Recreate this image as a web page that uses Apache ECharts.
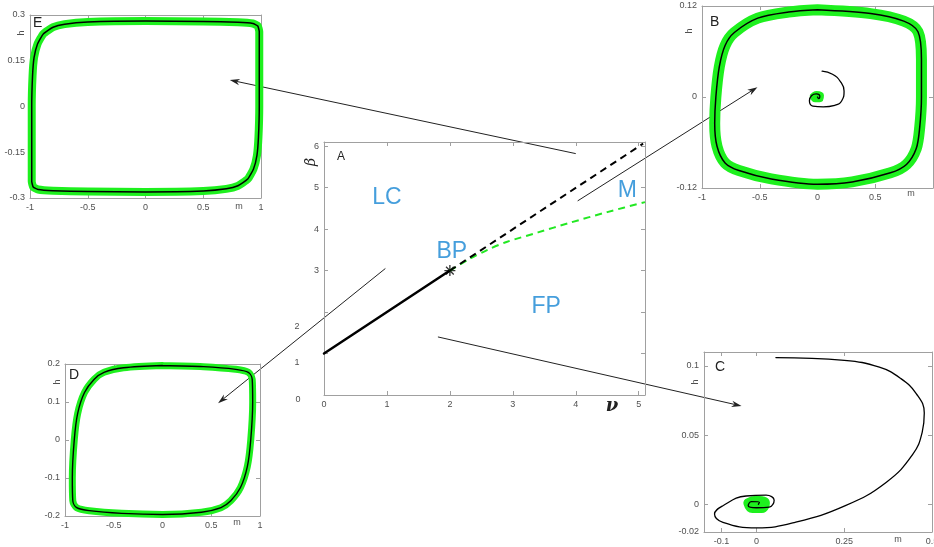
<!DOCTYPE html>
<html>
<head>
<meta charset="utf-8">
<script src="https://cdn.jsdelivr.net/npm/echarts@6/dist/echarts.min.js"></script>
<style>
  html, body { margin: 0; padding: 0; background: #fff; }
  #main { width: 934px; height: 547px; }
</style>
</head>
<body>
<div id="main"></div>
<script>
// panel A: two-parameter diagram (nu, beta)
const solidBranch = [[0, 1], [2, 3]]
const blackDashed = [[2, 3], [5.07, 6.06]]
const greenDashed = [[2, 3], [2.3, 3.27], [2.6, 3.5], [2.9, 3.69], [3.4, 3.92], [3.9, 4.15], [4.5, 4.41], [5.1, 4.65]]
const bpPoint = [[2, 3]]
const regionNames = ['LC', 'BP', 'M', 'FP']
const regionSpots = [[1.0, 4.77], [2.03, 3.45], [4.82, 4.93], [3.53, 2.12]]

// panel E: large limit cycle
const loopE = [[-0.985, -0.1], [-0.985, 0], [-0.978, 0.1], [-0.965, 0.16], [-0.935, 0.205], [-0.885, 0.238], [-0.8, 0.26], [-0.7, 0.27], [-0.5, 0.277], [0, 0.28], [0.5, 0.279], [0.8, 0.276], [0.93, 0.272], [0.972, 0.264], [0.985, 0.245], [0.985, 0.1], [0.985, 0], [0.978, -0.1], [0.965, -0.16], [0.935, -0.205], [0.885, -0.238], [0.8, -0.26], [0.7, -0.27], [0.5, -0.277], [0, -0.28], [-0.5, -0.279], [-0.8, -0.276], [-0.93, -0.272], [-0.972, -0.264], [-0.985, -0.245], [-0.985, -0.1]]

// panel B: bistable, limit cycle + spiral to fixed point
const loopB = [[0, 0.115], [0.46, 0.11], [0.747, 0.1], [0.87, 0.086], [0.9, 0.05], [0.9, 0], [0.885, -0.04], [0.855, -0.068], [0.77, -0.089], [0.632, -0.1], [0.3, -0.112], [0, -0.115], [-0.4, -0.108], [-0.68, -0.097], [-0.8, -0.087], [-0.87, -0.065], [-0.89, -0.035], [-0.88, 0], [-0.85, 0.04], [-0.8, 0.068], [-0.72, 0.085], [-0.517, 0.104], [-0.25, 0.112], [0, 0.115]]
const spiralB = [[0.04, 0.034], [0.13, 0.03], [0.2, 0.02], [0.23, 0.008], [0.21, -0.005], [0.15, -0.011], [0.05, -0.013], [-0.04, -0.012], [-0.07, -0.005], [-0.05, 0.002], [-0.01, 0.004], [0.02, 0.001], [0.01, -0.002], [0, 0]]
const blobB = [[-0.04, 0.001], [-0.01, 0.004], [0.03, 0.002], [0.02, -0.003], [-0.02, -0.003], [-0.04, 0.001]]

// panel D: limit cycle
const loopD = [[0, 0.196], [0.42, 0.193], [0.75, 0.186], [0.88, 0.178], [0.92, 0.16], [0.925, 0.1], [0.905, 0], [0.87, -0.07], [0.8, -0.125], [0.7, -0.16], [0.6, -0.178], [0.4, -0.19], [0, -0.196], [-0.42, -0.193], [-0.75, -0.186], [-0.88, -0.178], [-0.92, -0.16], [-0.925, -0.1], [-0.905, 0], [-0.87, 0.07], [-0.8, 0.125], [-0.7, 0.16], [-0.6, 0.178], [-0.4, 0.19], [0, 0.196]]

// panel C: spiral into fixed point
const spiralC = [[0.055, 0.106], [0.25, 0.104], [0.35, 0.099], [0.41, 0.091], [0.455, 0.08], [0.478, 0.066], [0.472, 0.052], [0.445, 0.036], [0.37, 0.016], [0.253, -0.001], [0.11, -0.013], [0, -0.017], [-0.096, -0.013], [-0.12, -0.007], [-0.096, -0.001], [-0.03, 0.006], [0.027, 0.0066], [0.05, 0.003], [0.036, -0.002], [0, -0.0025], [-0.024, -0.001], [-0.015, 0.002], [0.008, 0.0015], [0.005, 0]]
const blobC = [[-0.025, 0.001], [0, 0.003], [0.025, 0.001], [0.015, -0.003], [-0.012, -0.003], [-0.025, 0.001]]

// tick labels
const ticksA = { x: [0, 1, 2, 3, 4, 5], y: [0, 1, 2, 3, 4, 5, 6], yLabels: [3, 4, 5, 6], yShifted: ['2', '1', '0'] }
const ticksE = { x: [-1, -0.5, 0, 0.5, 1], y: [-0.3, -0.15, 0, 0.15, 0.3] }
const ticksB = { x: [-1, -0.5, 0, 0.5, 1], y: [-0.12, 0, 0.12] }
const ticksD = { x: [-1, -0.5, 0, 0.5, 1], y: [-0.2, -0.1, 0, 0.1, 0.2] }
const ticksC = { x: [-0.1, 0, 0.25, 0.5], y: [-0.02, 0, 0.05, 0.1] }

const axisColor = '#a0a0a0'
const labelColor = '#505050'
const green = '#1ef01e'
const blue = '#1786d3'
const font = 'Liberation Sans, Arial, sans-serif'

const grids = []
const xAxes = []
const yAxes = []
const fmt = (v) => String(+(+v).toFixed(3))

function addPanel(rect, xr, yr, tk) {
  const g = grids.length
  grids.push(Object.assign({ outerBoundsMode: 'none', containLabel: false }, rect))
  const line = { show: true, onZero: false, lineStyle: { color: axisColor, width: 1 } }
  const tick = (vals) => ({ show: true, inside: true, length: 4, customValues: vals, lineStyle: { color: axisColor } })
  const lab = (vals, margin) => ({
    show: true, customValues: vals, fontSize: 9, color: labelColor, fontFamily: font, margin, formatter: fmt,
    hideOverlap: false, showMinLabel: true, showMaxLabel: true
  })
  xAxes.push({ type: 'value', gridIndex: g, min: xr[0], max: xr[1], position: 'bottom', splitLine: { show: false },
    axisLine: line, axisTick: tick(tk.x), axisLabel: lab(tk.xLabels || tk.x, 5) })
  xAxes.push({ type: 'value', gridIndex: g, min: xr[0], max: xr[1], position: 'top', splitLine: { show: false },
    axisLine: line, axisTick: tick(tk.x), axisLabel: { show: false } })
  yAxes.push({ type: 'value', gridIndex: g, min: yr[0], max: yr[1], position: 'left', splitLine: { show: false },
    axisLine: line, axisTick: tick(tk.y), axisLabel: lab(tk.yLabels || tk.y, 5) })
  yAxes.push({ type: 'value', gridIndex: g, min: yr[0], max: yr[1], position: 'right', splitLine: { show: false },
    axisLine: line, axisTick: tick(tk.y), axisLabel: { show: false } })
  return g
}

const gE = addPanel({ left: 30, top: 15, width: 231, height: 183 }, [-1, 1], [-0.3, 0.3], ticksE)
const gB = addPanel({ left: 702, top: 6, width: 231, height: 182 }, [-1, 1], [-0.12, 0.12], { x: ticksB.x, xLabels: [-1, -0.5, 0, 0.5], y: ticksB.y })
const gA = addPanel({ left: 324, top: 142, width: 321, height: 253 }, [0, 5.1], [0, 6.1], ticksA)
const gD = addPanel({ left: 65, top: 364, width: 195, height: 152 }, [-1, 1], [-0.2, 0.2], ticksD)
const gC = addPanel({ left: 704, top: 352, width: 228, height: 180 }, [-0.15, 0.5], [-0.02, 0.11], ticksC)

const on = (g) => ({ xAxisIndex: 2 * g, yAxisIndex: 2 * g })
const path = (g, data, color, width, extra) => Object.assign({
  type: 'line', data, symbol: 'none', silent: true, animation: false,
  lineStyle: { color, width, cap: 'round', join: 'round' }
}, on(g), extra || {})

const series = [
  // A
  path(gA, solidBranch, '#000', 2.5),
  path(gA, greenDashed, '#22e822', 2, { smooth: 0.3, lineStyle: { color: '#22e822', width: 2, type: [7, 5] } }),
  path(gA, blackDashed, '#000', 2, { lineStyle: { color: '#000', width: 2, type: [7, 5] } }),
  Object.assign({
    type: 'scatter', data: bpPoint, symbolSize: 11, animation: false, silent: true,
    symbol: 'path://M5 0 L5 10 M0 5 L10 5 M1.5 1.5 L8.5 8.5 M1.5 8.5 L8.5 1.5',
    itemStyle: { color: 'transparent', borderColor: '#000', borderWidth: 1.3 }
  }, on(gA)),
  Object.assign({
    type: 'scatter', animation: false, silent: true, symbolSize: 1,
    data: regionNames.map((n, i) => ({ name: n, value: regionSpots[i] })),
    itemStyle: { color: 'transparent' },
    label: { show: true, position: 'inside', formatter: '{b}', fontSize: 23, color: blue, fontFamily: font }
  }, on(gA)),
  // E
  path(gE, loopE, green, 8, { smooth: 0.15 }),
  path(gE, loopE, '#000', 1.5, { smooth: 0.15 }),
  // B
  path(gB, loopB, green, 11, { smooth: 0.3 }),
  path(gB, loopB, '#000', 1.5, { smooth: 0.3 }),
  path(gB, blobB, green, 6, { smooth: 0.5 }),
  path(gB, spiralB, '#000', 1.3, { smooth: 0.5 }),
  // D
  path(gD, loopD, green, 7, { smooth: 0.3 }),
  path(gD, loopD, '#000', 1.4, { smooth: 0.3 }),
  // C
  path(gC, blobC, green, 9, { smooth: 0.5 }),
  path(gC, spiralC, '#000', 1.3, { smooth: 0.45 })
]

const txt = (text, x, y, size, opt) => ({
  type: 'text', x, y, silent: true,
  style: Object.assign({ text, fontSize: size, fill: '#333', fontFamily: font, align: 'left', verticalAlign: 'middle' }, opt || {})
})
const rot = Math.PI / 2
const graphics = [
  txt('E', 33, 23, 14, { fill: '#222' }),
  txt('B', 710, 22, 14, { fill: '#222' }),
  txt('D', 69, 375, 14, { fill: '#222' }),
  txt('C', 715, 367, 14, { fill: '#222' }),
  txt('A', 337, 157, 12, { fill: '#222' }),
  txt('m', 239, 207, 9, { align: 'center', fill: labelColor }),
  txt('m', 911, 194, 9, { align: 'center', fill: labelColor }),
  txt('m', 237, 523, 9, { align: 'center', fill: labelColor }),
  txt('m', 898, 540, 9, { align: 'center', fill: labelColor }),
  Object.assign(txt('h', 22, 33, 9, { align: 'center', fill: labelColor }), { rotation: rot }),
  Object.assign(txt('h', 690, 31, 9, { align: 'center', fill: labelColor }), { rotation: rot }),
  Object.assign(txt('h', 58, 382, 9, { align: 'center', fill: labelColor }), { rotation: rot }),
  Object.assign(txt('h', 696, 382, 9, { align: 'center', fill: labelColor }), { rotation: rot }),
  txt('\u03bd', 612, 406, 18, { align: 'center', fill: '#222', fontFamily: 'DejaVu Serif, serif', fontStyle: 'italic', fontWeight: 'bold' }),
  Object.assign(txt('\u03b2', 311, 162, 14, { align: 'center', fill: '#222', fontFamily: 'DejaVu Serif, serif', fontStyle: 'italic' }), { rotation: rot }),
  txt(ticksA.yShifted[0], 297, 327, 9, { align: 'center', fill: labelColor }),
  txt(ticksA.yShifted[1], 297, 363, 9, { align: 'center', fill: labelColor }),
  txt(ticksA.yShifted[2], 298, 400, 9, { align: 'center', fill: labelColor })
]

const chart = echarts.init(document.getElementById('main'), null, { renderer: 'canvas' })
chart.setOption({
  animation: false,
  backgroundColor: '#fff',
  grid: grids,
  xAxis: xAxes,
  yAxis: yAxes,
  series,
  graphic: graphics
})

// arrows from regions of A to the sample phase portraits
const arrows = [
  { from: [gA, 4.0, 5.82], to: [gE, 0.73, 0.087] },
  { from: [gA, 4.03, 4.68], to: [gB, -0.52, 0.013] },
  { from: [gA, 0.975, 3.05], to: [gD, 0.57, 0.097] },
  { from: [gA, 1.81, 1.4], to: [gC, -0.043, 0.071] }
]
arrows.forEach((a) => {
  const p1 = chart.convertToPixel(on(a.from[0]), [a.from[1], a.from[2]])
  const p2 = chart.convertToPixel(on(a.to[0]), [a.to[1], a.to[2]])
  const dx = p2[0] - p1[0]
  const dy = p2[1] - p1[1]
  const len = Math.sqrt(dx * dx + dy * dy)
  const ux = dx / len
  const uy = dy / len
  const L = 10
  const W = 3.2
  const bx = p2[0] - ux * L
  const by = p2[1] - uy * L
  graphics.push({ type: 'line', silent: true, shape: { x1: p1[0], y1: p1[1], x2: bx + ux * 3, y2: by + uy * 3 }, style: { stroke: '#222', lineWidth: 1 } })
  graphics.push({
    type: 'polygon', silent: true,
    shape: { points: [[p2[0], p2[1]], [bx - uy * W, by + ux * W], [bx + ux * 3, by + uy * 3], [bx + uy * W, by - ux * W]] },
    style: { fill: '#222' }
  })
})
chart.setOption({ graphic: graphics })
</script>
</body>
</html>
